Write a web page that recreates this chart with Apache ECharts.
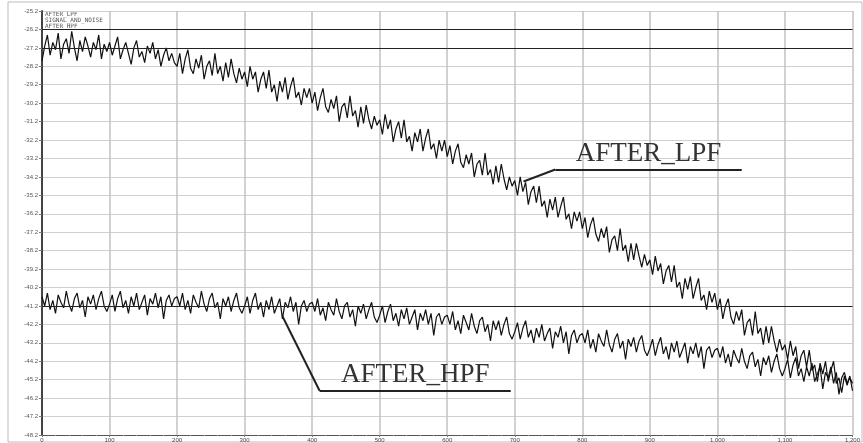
<!DOCTYPE html>
<html>
<head>
<meta charset="utf-8">
<script src="https://cdn.jsdelivr.net/npm/echarts@6/dist/echarts.min.js"></script>
<style>
  html, body { margin: 0; padding: 0; background: #fff; }
  #chart { width: 863px; height: 443px; }
</style>
</head>
<body>
<div id="chart"></div>
<script>
// x 轴：0 ~ 1200，每 4 个单位一个采样点
var xStep = 4;

// AFTER_LPF 曲线（从图上估读，每行 100 个单位）
var lpfValues = [
  -27.9, -27.1, -26.5, -27.6, -26.9, -27.3, -26.4, -27.8, -27.0, -26.7, -27.5, -26.3, -27.2, -27.9, -26.8, -27.4, -26.6, -27.1, -27.7, -26.9, -27.3, -26.5, -27.8, -27.0, -27.4,
  -26.9, -27.6, -27.1, -26.6, -27.8, -27.3, -26.9, -27.5, -28.1, -27.2, -26.8, -27.7, -27.4, -28.0, -27.1, -27.5, -26.9, -27.8, -27.3, -28.2, -27.6, -27.2, -27.9, -27.5, -28.0,
  -28.2, -27.5, -28.6, -27.8, -27.3, -28.3, -28.6, -27.8, -28.3, -27.6, -28.9, -28.2, -27.9, -28.7, -27.5, -28.6, -28.2, -29.0, -28.0, -28.8, -27.8, -28.6, -29.1, -28.3, -28.9,
  -28.5, -29.3, -28.2, -28.9, -28.5, -29.6, -28.9, -28.5, -29.4, -28.4, -29.6, -29.2, -30.1, -29.0, -29.6, -28.8, -30.0, -29.3, -28.8, -29.9, -29.6, -30.3, -29.4, -29.9, -29.4,
  -30.2, -29.6, -30.6, -29.9, -29.4, -30.4, -30.7, -30.0, -30.5, -29.8, -31.2, -30.4, -30.2, -31.0, -29.8, -30.9, -30.6, -31.5, -30.4, -31.3, -30.3, -31.1, -31.6, -30.9, -31.4,
  -31.1, -31.9, -30.8, -31.6, -31.1, -32.3, -31.6, -31.2, -32.1, -31.1, -32.3, -32.0, -32.8, -31.8, -32.3, -31.6, -32.8, -32.1, -31.6, -32.7, -32.4, -33.2, -32.2, -32.8, -32.2,
  -33.1, -32.5, -33.5, -32.8, -32.4, -33.4, -33.7, -33.0, -33.5, -32.9, -34.2, -33.5, -33.3, -34.1, -32.9, -34.1, -33.8, -34.6, -33.6, -34.5, -33.5, -34.3, -34.9, -34.2, -34.7,
  -34.4, -35.2, -34.2, -35.0, -34.5, -35.7, -35.0, -34.7, -35.6, -34.7, -35.8, -35.5, -36.4, -35.4, -36.0, -35.3, -36.4, -35.8, -35.3, -36.5, -36.2, -37.0, -36.1, -36.6, -36.1,
  -37.0, -36.4, -37.5, -36.8, -36.4, -37.3, -37.7, -37.0, -37.5, -36.9, -38.3, -37.6, -37.4, -38.2, -37.0, -38.2, -37.9, -38.8, -37.8, -38.7, -37.8, -38.5, -39.1, -38.4, -39.0,
  -38.7, -39.5, -38.5, -39.3, -38.9, -40.0, -39.3, -39.0, -39.9, -39.0, -40.2, -39.9, -40.8, -39.7, -40.3, -39.6, -40.8, -40.2, -39.7, -40.9, -40.6, -41.4, -40.4, -41.0, -40.5,
  -41.4, -40.8, -41.9, -41.2, -40.8, -41.8, -42.2, -41.5, -42.0, -41.4, -42.8, -42.1, -41.9, -42.8, -41.5, -42.7, -42.4, -43.3, -42.3, -43.2, -42.3, -43.1, -43.7, -43.0, -43.6,
  -43.3, -44.1, -43.1, -43.9, -43.4, -44.6, -43.9, -43.6, -44.5, -43.6, -44.7, -44.4, -45.3, -44.3, -44.9, -44.2, -45.3, -44.7, -44.2, -45.4, -45.1, -45.9, -45.0, -45.5, -45.0,
  -45.8
];

// AFTER_HPF 曲线
var hpfValues = [
  -40.7, -41.2, -40.5, -41.4, -40.9, -41.6, -40.6, -41.0, -41.3, -40.4, -41.1, -41.5, -40.8, -40.5, -41.3, -40.9, -41.8, -40.7, -41.1, -40.6, -41.4, -40.8, -40.4, -41.2, -41.5,
  -41.1, -40.6, -41.5, -40.8, -40.4, -41.3, -40.9, -41.6, -40.7, -41.2, -40.5, -41.4, -41.0, -40.6, -41.7, -40.8, -41.1, -40.5, -41.3, -40.7, -41.9, -40.9, -40.6, -41.2, -40.8,
  -40.7, -41.2, -40.5, -41.4, -40.9, -41.6, -40.6, -41.0, -41.3, -40.4, -41.1, -41.5, -40.8, -40.5, -41.3, -41.0, -41.9, -40.8, -41.2, -40.7, -41.5, -40.9, -40.5, -41.3, -41.6,
  -41.2, -40.7, -41.6, -40.9, -40.5, -41.4, -41.0, -41.8, -40.9, -41.4, -40.7, -41.6, -41.2, -40.8, -41.9, -41.0, -41.3, -40.7, -41.5, -41.0, -42.2, -41.2, -40.9, -41.5, -41.1,
  -41.0, -41.5, -40.8, -41.7, -41.3, -42.0, -41.0, -41.4, -41.7, -40.8, -41.5, -41.9, -41.2, -41.0, -41.8, -41.4, -42.3, -41.2, -41.6, -41.1, -41.9, -41.4, -41.0, -41.8, -42.1,
  -41.7, -41.2, -42.1, -41.5, -41.1, -42.0, -41.6, -42.3, -41.4, -41.9, -41.3, -42.2, -41.8, -41.4, -42.5, -41.6, -42.0, -41.4, -42.2, -41.6, -42.8, -41.8, -41.6, -42.2, -41.8,
  -41.7, -42.2, -41.5, -42.5, -42.0, -42.7, -41.7, -42.1, -42.5, -41.6, -42.3, -42.7, -42.0, -41.8, -42.6, -42.2, -43.1, -42.0, -42.5, -42.0, -42.8, -42.2, -41.8, -42.7, -43.0,
  -42.6, -42.1, -43.0, -42.4, -42.0, -42.9, -42.5, -43.2, -42.4, -42.9, -42.2, -43.1, -42.7, -42.4, -43.5, -42.6, -42.9, -42.3, -43.2, -42.6, -43.8, -42.8, -42.5, -43.2, -42.8,
  -42.7, -43.2, -42.5, -43.5, -43.0, -43.7, -42.7, -43.1, -43.4, -42.5, -43.3, -43.7, -43.0, -42.7, -43.5, -43.1, -44.1, -43.0, -43.4, -42.9, -43.7, -43.1, -42.8, -43.6, -43.9,
  -43.5, -43.0, -43.9, -43.3, -42.9, -43.8, -43.4, -44.1, -43.2, -43.7, -43.1, -44.0, -43.6, -43.2, -44.3, -43.4, -43.8, -43.2, -44.0, -43.4, -44.6, -43.6, -43.4, -44.0, -43.6,
  -43.5, -44.0, -43.4, -44.3, -43.8, -44.5, -43.6, -44.0, -44.3, -43.5, -44.2, -44.6, -43.9, -43.7, -44.5, -44.1, -45.0, -44.0, -44.4, -43.9, -44.8, -44.2, -43.8, -44.6, -45.0,
  -44.6, -44.1, -45.1, -44.4, -44.0, -45.0, -44.6, -45.3, -44.5, -45.0, -44.3, -45.3, -44.9, -44.5, -45.7, -44.8, -45.1, -44.5, -45.4, -44.8, -46.0, -45.1, -44.8, -45.4, -45.1,
  -45.4
];

// 图例文字和深色参考线
var legendNames = ["AFTER_LPF", "SIGNAL_AND_NOISE", "AFTER_HPF"];
var refLines = [-26.2, -27.2, -41.2];

var lpfData = lpfValues.map((v, i) => [i * xStep, v]);
var hpfData = hpfValues.map((v, i) => [i * xStep, v]);

var chart = echarts.init(document.getElementById("chart"));

var leaderStyle = { color: "#222", width: 2, type: "solid" };
var leaderLabel = {
  show: true,
  position: "insideMiddleTop",
  fontFamily: "Liberation Serif",
  fontSize: 27,
  color: "#333",
  distance: 2,
};

var option = {
  animation: false,
  backgroundColor: "#fff",
  grid: { left: 42, right: 3, top: 11, bottom: 8, containLabel: false },
  xAxis: {
    type: "value",
    min: 0,
    max: 1200,
    interval: 100,
    axisLine: { show: true, onZero: false, lineStyle: { color: "#555", width: 1 } },
    axisTick: { show: true, length: 2, lineStyle: { color: "#777" } },
    minorTick: { show: true, splitNumber: 5, length: 1, lineStyle: { color: "#999" } },
    axisLabel: {
      fontSize: 6,
      color: "#444",
      margin: 2,
      formatter: function (v) {
        return v.toLocaleString("en-US");
      },
    },
    splitLine: { show: true, lineStyle: { color: "#c2c2c2", width: 1.5 } },
  },
  yAxis: {
    type: "value",
    min: -48.2,
    max: -25.2,
    interval: 1,
    axisLine: { show: true, onZero: false, lineStyle: { color: "#444", width: 2 } },
    axisTick: { show: true, length: 3, lineStyle: { color: "#777" } },
    axisLabel: {
      fontSize: 6,
      color: "#555",
      margin: 4,
      formatter: function (v) {
        return v.toFixed(1);
      },
    },
    splitLine: { show: true, lineStyle: { color: "#d0d0d0", width: 1 } },
  },
  series: [
    {
      name: "AFTER_LPF",
      type: "line",
      data: lpfData,
      showSymbol: false,
      lineStyle: { color: "#111", width: 1.2 },
      z: 3,
      markLine: {
        silent: true,
        symbol: "none",
        animation: false,
        data: [
          [{ coord: [713, -34.45], label: { show: false } }, { coord: [760, -33.8] }],
          [
            { coord: [760, -33.8], label: Object.assign({ formatter: "AFTER_LPF" }, leaderLabel) },
            { coord: [1036, -33.8] },
          ],
        ],
        lineStyle: leaderStyle,
      },
    },
    {
      name: "AFTER_HPF",
      type: "line",
      data: hpfData,
      showSymbol: false,
      lineStyle: { color: "#111", width: 1.2 },
      z: 3,
      markLine: {
        silent: true,
        symbol: "none",
        animation: false,
        data: [
          [{ coord: [356, -41.76], label: { show: false } }, { coord: [411, -45.8] }],
          [
            { coord: [411, -45.8], label: Object.assign({ formatter: "AFTER_HPF" }, leaderLabel) },
            { coord: [694, -45.8] },
          ],
        ],
        lineStyle: leaderStyle,
      },
    },
    {
      // 深色参考线
      name: "ref",
      type: "line",
      data: [],
      markLine: {
        silent: true,
        symbol: "none",
        label: { show: false },
        lineStyle: { color: "#222", width: 1, type: "solid" },
        data: refLines.map((v) => ({ yAxis: v })),
      },
    },
  ],
  graphic: [
    {
      type: "rect",
      shape: { x: 8, y: 2, width: 854, height: 440 },
      style: { fill: "none", stroke: "#bbb", lineWidth: 1 },
      silent: true,
    },
    {
      type: "text",
      left: 45,
      top: 11,
      style: {
        text: legendNames.join("\n"),
        fontSize: 6,
        lineHeight: 6,
        fontFamily: "DejaVu Sans Mono",
        fill: "#555",
      },
      silent: true,
    },
  ],
};

chart.setOption(option);
</script>
</body>
</html>
